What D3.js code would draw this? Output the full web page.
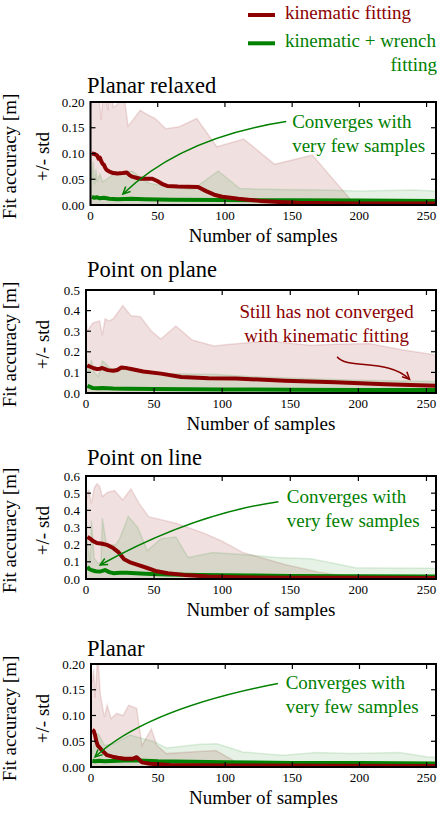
<!DOCTYPE html>
<html>
<head>
<meta charset="utf-8">
<script src="https://cdn.jsdelivr.net/npm/d3@7"></script>
<style>
  body { margin: 0; background: #fff; }
  svg { display: block; font-family: "Liberation Serif", "DejaVu Serif", serif; }
</style>
</head>
<body>
<div id="chart"></div>
<script>
// ---- data: [samples, value] ----
// Planar relaxed
const relKinMean = [[1,0.100],[3,0.099],[5,0.096],[6,0.090],[7,0.092],[8,0.085],[9,0.080],[10,0.078],[11,0.072],[12,0.068],[14,0.065],[17,0.062],[20,0.061],[24,0.062],[27,0.063],[29,0.058],[31,0.055],[34,0.053],[37,0.051],[46,0.051],[50,0.046],[54,0.040],[57,0.037],[65,0.036],[80,0.035],[86,0.027],[92,0.020],[98,0.016],[110,0.012],[126,0.008],[140,0.006],[155,0.0045],[180,0.0035],[200,0.003],[257,0.003]];
const relKinHi = [[0,0.25],[5,0.25],[8,0.165],[10,0.25],[12,0.20],[13,0.183],[14,0.25],[17,0.19],[20,0.195],[23,0.25],[28,0.153],[37,0.184],[42,0.176],[48,0.168],[56,0.148],[66,0.152],[79,0.168],[94,0.113],[114,0.128],[137,0.079],[165,0.097],[196,0.003],[257,0.003]];
const relWrMean = [[1,0.016],[3,0.014],[5,0.015],[7,0.013],[10,0.014],[14,0.012],[20,0.011],[30,0.012],[40,0.011],[60,0.010],[100,0.0095],[150,0.009],[200,0.0085],[257,0.008]];
const relWrHi = [[0,0.09],[1,0.05],[2,0.085],[3,0.04],[4,0.07],[5,0.045],[7,0.06],[9,0.045],[12,0.05],[17,0.06],[24,0.062],[31,0.066],[38,0.052],[44,0.042],[60,0.035],[76,0.030],[95,0.066],[111,0.032],[140,0.030],[175,0.029],[200,0.027],[240,0.029],[257,0.027]];

// Point on plane
const popKinMean = [[1,0.136],[2,0.130],[4,0.125],[6,0.120],[8,0.116],[10,0.118],[12,0.121],[14,0.116],[16,0.111],[20,0.108],[23,0.112],[26,0.124],[29,0.122],[34,0.115],[42,0.104],[55,0.094],[70,0.078],[90,0.072],[110,0.070],[146,0.060],[183,0.052],[220,0.043],[257,0.035]];
const popKinHi = [[0,0.36],[1,0.30],[3,0.32],[5,0.34],[10,0.35],[12,0.28],[14,0.36],[17,0.35],[20,0.36],[27,0.425],[33,0.375],[40,0.37],[48,0.30],[55,0.262],[66,0.325],[78,0.257],[94,0.228],[104,0.236],[134,0.252],[165,0.232],[183,0.237],[208,0.24],[232,0.21],[257,0.185]];
const popWrMean = [[1,0.035],[3,0.030],[5,0.024],[8,0.023],[12,0.024],[20,0.022],[30,0.021],[50,0.020],[100,0.017],[150,0.016],[200,0.015],[257,0.014]];
const popWrHi = [[0,0.19],[2,0.10],[4,0.16],[6,0.10],[9,0.08],[12,0.155],[15,0.14],[18,0.115],[24,0.12],[28,0.125],[40,0.105],[60,0.095],[95,0.09],[120,0.08],[160,0.07],[200,0.062],[257,0.056]];

// Point on line
const polKinMean = [[1,0.246],[3,0.235],[5,0.222],[8,0.210],[12,0.205],[16,0.197],[20,0.180],[24,0.155],[28,0.115],[33,0.095],[38,0.082],[45,0.064],[52,0.045],[60,0.033],[72,0.024],[90,0.014],[110,0.010],[150,0.008],[200,0.007],[257,0.006]];
const polKinHi = [[0,0.55],[1,0.47],[2,0.52],[4,0.44],[6,0.53],[8,0.555],[10,0.54],[12,0.48],[16,0.505],[21,0.515],[27,0.46],[33,0.525],[39,0.44],[46,0.363],[66,0.325],[87,0.266],[100,0.22],[115,0.155],[146,0.085],[171,0.04],[195,0.012],[210,0.005],[257,0.004]];
const polWrMean = [[1,0.072],[2,0.060],[4,0.052],[7,0.045],[10,0.043],[12,0.047],[14,0.052],[17,0.040],[20,0.034],[25,0.036],[30,0.037],[40,0.032],[48,0.029],[60,0.026],[84,0.023],[120,0.020],[150,0.018],[200,0.016],[257,0.015]];
const polWrHi = [[0,0.30],[2,0.15],[3,0.10],[4,0.34],[6,0.12],[9,0.09],[11,0.10],[12,0.355],[15,0.20],[22,0.20],[25,0.24],[31,0.365],[38,0.30],[45,0.165],[55,0.235],[66,0.245],[75,0.125],[93,0.155],[120,0.14],[140,0.125],[165,0.118],[180,0.095],[198,0.065],[257,0.062]];

// Planar
const plKinMean = [[1,0.072],[2,0.070],[3,0.062],[4,0.050],[5,0.042],[7,0.036],[9,0.030],[12,0.023],[16,0.020],[20,0.018],[25,0.016],[31,0.016],[34,0.019],[36,0.014],[38,0.009],[44,0.0065],[59,0.004],[100,0.003],[257,0.002]];
const plKinHi = [[0,0.185],[1,0.165],[2,0.19],[3,0.134],[5,0.22],[7,0.14],[10,0.097],[12,0.12],[15,0.094],[19,0.104],[24,0.10],[28,0.12],[34,0.114],[38,0.042],[45,0.074],[49,0.042],[56,0.026],[80,0.030],[93,0.032],[106,0.013],[112,0.003],[257,0.002]];
const plWrMean = [[1,0.012],[3,0.011],[6,0.012],[10,0.011],[20,0.012],[30,0.013],[40,0.012],[50,0.011],[100,0.009],[150,0.008],[200,0.008],[257,0.007]];
const plWrHi = [[0,0.02],[2,0.04],[4,0.065],[6,0.062],[10,0.042],[17,0.045],[29,0.062],[47,0.049],[56,0.037],[81,0.044],[94,0.045],[113,0.029],[143,0.023],[168,0.028],[193,0.026],[230,0.028],[250,0.02],[257,0.019]];

const titles = ["Planar relaxed", "Point on plane", "Point on line", "Planar"];
const yMaxes = [0.2, 0.5, 0.6, 0.2];
const yTickSteps = [0.05, 0.1, 0.1, 0.05];
const yTickFormats = [".2f", ".1f", ".1f", ".2f"];
const xTicks = [0, 50, 100, 150, 200, 250];
const xMax = 257;
const seriesNames = [["kinematic fitting"], ["kinematic + wrench", "fitting"]];
const colors = ["#8b0000", "#008000"];

const kinMeans = [relKinMean, popKinMean, polKinMean, plKinMean];
const kinHis = [relKinHi, popKinHi, polKinHi, plKinHi];
const wrMeans = [relWrMean, popWrMean, polWrMean, plWrMean];
const wrHis = [relWrHi, popWrHi, polWrHi, plWrHi];

// annotations, positions in data coords of their panel
const notes = [
  {panel: 0, lines: ["Converges with", "very few samples"], color: 1, at: [150, 0.1495], anchor: "start",
   path: [[145.6, 0.162], [67.9, 0.131], [24.1, 0.0214]]},
  {panel: 1, lines: ["Still has not converged", "with kinematic fitting"], color: 0, at: [176.7, 0.364], anchor: "middle",
   path: [[184.4, 0.176], [191.9, 0.112], [221.5, 0.17], [237.6, 0.0665]]},
  {panel: 2, lines: ["Converges with", "very few samples"], color: 1, at: [147.4, 0.444], anchor: "start",
   path: [[141.3, 0.45], [78.5, 0.38], [10.4, 0.0815]]},
  {panel: 3, lines: ["Converges with", "very few samples"], color: 1, at: [145, 0.151], anchor: "start",
   path: [[139.3, 0.162], [42.2, 0.1135], [3.0, 0.0195]]}
];

// ---- layout ----
const W = 444, H = 832;
const plotRight = 436, plotH = 103;
const layout = [
  {left: 90.5, top: 102, titleY: 93},
  {left: 86, top: 290, titleY: 277},
  {left: 86, top: 476, titleY: 465},
  {left: 91, top: 664, titleY: 656}
];

const svg = d3.select("#chart").append("svg")
  .attr("width", W)
  .attr("height", H);

// legend
seriesNames.forEach((name, i) => {
  const y = i === 0 ? 15 : 43.3;
  svg.append("line")
    .attr("x1", 248).attr("x2", 275)
    .attr("y1", y).attr("y2", y)
    .style("stroke", colors[i])
    .style("stroke-width", 4);
  svg.append("text")
    .attr("x", 285).attr("y", y + 3.5)
    .style("font-size", "19px")
    .style("fill", colors[i])
    .text(name[0]);
  if (name[1]) {
    svg.append("text")
      .attr("x", 437).attr("y", y + 27.5)
      .attr("text-anchor", "end")
      .style("font-size", "19px")
      .style("fill", colors[i])
      .text(name[1]);
  }
});

titles.forEach((title, p) => {
  const L = layout[p];
  const x = d3.scaleLinear().domain([0, xMax]).range([L.left, plotRight]);
  const y = d3.scaleLinear().domain([0, yMaxes[p]]).range([L.top + plotH, L.top]);
  const bottom = L.top + plotH;
  const midY = L.top + plotH / 2;

  const clipId = "clip" + p;
  svg.append("clipPath").attr("id", clipId)
    .append("rect")
    .attr("x", L.left).attr("y", L.top)
    .attr("width", plotRight - L.left).attr("height", plotH);

  const g = svg.append("g").attr("clip-path", `url(#${clipId})`);

  const band = d3.area().x(d => x(d[0])).y0(y(0)).y1(d => y(d[1]));
  const edge = d3.line().x(d => x(d[0])).y(d => y(d[1]));

  // std bands
  [[kinHis[p], 0, 0.12], [wrHis[p], 1, 0.1]].forEach(([data, c, op]) => {
    g.append("path").datum(data)
      .attr("d", band)
      .style("fill", colors[c])
      .style("fill-opacity", op);
    g.append("path").datum(data)
      .attr("d", edge)
      .style("fill", "none")
      .style("stroke", colors[c])
      .style("stroke-opacity", 0.12)
      .style("stroke-width", 1.5);
  });

  // means
  [[wrMeans[p], 1], [kinMeans[p], 0]].forEach(([data, c]) => {
    g.append("path").datum(data)
      .attr("d", edge)
      .style("fill", "none")
      .style("stroke", colors[c])
      .style("stroke-width", 4)
      .style("stroke-linejoin", "round");
  });

  // ticks (inward, all four sides)
  const yTicks = d3.range(0, yMaxes[p] + 1e-9, yTickSteps[p]);
  const fmt = d3.format(yTickFormats[p]);
  const tk = svg.append("g").style("stroke", "#000").style("stroke-width", 1.2);
  xTicks.forEach(v => {
    tk.append("line").attr("x1", x(v)).attr("x2", x(v)).attr("y1", bottom).attr("y2", bottom - 5);
    tk.append("line").attr("x1", x(v)).attr("x2", x(v)).attr("y1", L.top).attr("y2", L.top + 5);
    svg.append("text")
      .attr("x", x(v)).attr("y", bottom + 15)
      .attr("text-anchor", "middle")
      .style("font-size", "13px")
      .text(v);
  });
  yTicks.forEach(v => {
    tk.append("line").attr("x1", L.left).attr("x2", L.left + 5).attr("y1", y(v)).attr("y2", y(v));
    tk.append("line").attr("x1", plotRight).attr("x2", plotRight - 5).attr("y1", y(v)).attr("y2", y(v));
    svg.append("text")
      .attr("x", L.left - 6).attr("y", y(v))
      .attr("dy", "0.35em")
      .attr("text-anchor", "end")
      .style("font-size", "13px")
      .text(fmt(v));
  });

  // frame
  svg.append("rect")
    .attr("x", L.left).attr("y", L.top)
    .attr("width", plotRight - L.left).attr("height", plotH)
    .style("fill", "none")
    .style("stroke", "#000")
    .style("stroke-width", 2);

  // title and axis labels
  svg.append("text")
    .attr("x", 87).attr("y", L.titleY)
    .style("font-size", "22.5px")
    .text(title);
  svg.append("text")
    .attr("x", (L.left + plotRight) / 2).attr("y", bottom + 36.5)
    .attr("text-anchor", "middle")
    .style("font-size", "19px")
    .text("Number of samples");
  svg.append("text")
    .attr("transform", `translate(16,${midY + 3}) rotate(-90)`)
    .attr("text-anchor", "middle")
    .style("font-size", "19px")
    .text("Fit accuracy [m]");
  svg.append("text")
    .attr("transform", `translate(49,${midY + 3}) rotate(-90)`)
    .attr("text-anchor", "middle")
    .style("font-size", "19px")
    .text("+/- std");

  // annotations
  notes.filter(n => n.panel === p).forEach(n => {
    const col = colors[n.color];
    const t = svg.append("text")
      .attr("x", x(n.at[0])).attr("y", y(n.at[1]))
      .attr("text-anchor", n.anchor)
      .style("font-size", "19px")
      .style("fill", col);
    n.lines.forEach((line, i) => {
      t.append("tspan")
        .attr("x", x(n.at[0]))
        .attr("dy", i === 0 ? 0 : "1.25em")
        .text(line);
    });
    const pts = n.path.map(d => [x(d[0]), y(d[1])]);
    const path = d3.path();
    path.moveTo(pts[0][0], pts[0][1]);
    if (pts.length === 3) path.quadraticCurveTo(pts[1][0], pts[1][1], pts[2][0], pts[2][1]);
    else path.bezierCurveTo(pts[1][0], pts[1][1], pts[2][0], pts[2][1], pts[3][0], pts[3][1]);
    svg.append("path")
      .attr("d", path.toString())
      .style("fill", "none")
      .style("stroke", col)
      .style("stroke-width", 1.5);
    // arrow head
    const head = pts[pts.length - 1], prev = pts[pts.length - 2];
    const ang = Math.atan2(head[1] - prev[1], head[0] - prev[0]);
    const len = 8, spread = 0.45;
    const hp = d3.path();
    hp.moveTo(head[0] - len * Math.cos(ang - spread), head[1] - len * Math.sin(ang - spread));
    hp.lineTo(head[0], head[1]);
    hp.lineTo(head[0] - len * Math.cos(ang + spread), head[1] - len * Math.sin(ang + spread));
    svg.append("path")
      .attr("d", hp.toString())
      .style("fill", "none")
      .style("stroke", col)
      .style("stroke-width", 1.5);
  });
});
</script>
</body>
</html>
